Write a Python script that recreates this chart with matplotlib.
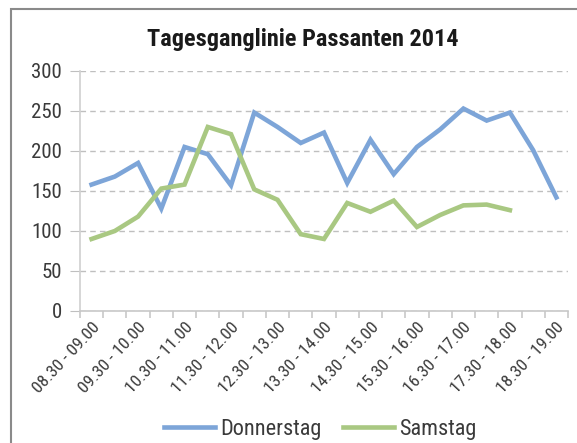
import numpy as np
import matplotlib
matplotlib.use("Agg")
import matplotlib.pyplot as plt
from matplotlib.patches import Rectangle

plt.rcParams['font.family'] = ['Noto Sans Condensed', 'DejaVu Sans Condensed',
                               'Liberation Sans Narrow', 'Roboto Condensed',
                               'Noto Sans', 'DejaVu Sans']
plt.rcParams['font.stretch'] = 'condensed'

# half-hour slots, only every second one gets a label (like in Excel)
slots = ['08.30 - 09.00', '09.00 - 09.30', '09.30 - 10.00', '10.00 - 10.30',
         '10.30 - 11.00', '11.00 - 11.30', '11.30 - 12.00', '12.00 - 12.30',
         '12.30 - 13.00', '13.00 - 13.30', '13.30 - 14.00', '14.00 - 14.30',
         '14.30 - 15.00', '15.00 - 15.30', '15.30 - 16.00', '16.00 - 16.30',
         '16.30 - 17.00', '17.00 - 17.30', '17.30 - 18.00', '18.00 - 18.30',
         '18.30 - 19.00']
donnerstag = [158, 168, 185, 128, 205, 196, 157, 248, 230, 210, 223,
              160, 214, 171, 205, 227, 253, 238, 248, 201, 142]
samstag = [90, 100, 118, 153, 158, 230, 221, 152, 139, 96, 90,
           135, 124, 138, 105, 120, 132, 133, 126, np.nan, np.nan]

grey_txt = '#3a3a3a'
grey_ln = '#bfbfbf'

fig = plt.figure(figsize=(5.77, 4.43), dpi=100)
ax = fig.add_axes([0.1386, 0.298, 0.8458, 0.5418])

x = np.arange(len(slots))
ax.plot(x, donnerstag, color='#7da5d8', lw=3.3, label='Donnerstag', solid_joinstyle='miter')
ax.plot(x, samstag, color='#a9c882', lw=3.3, label='Samstag', solid_joinstyle='miter')

ax.set_xlim(-0.5, len(slots) - 0.5)
ax.set_ylim(0, 300)
ax.set_yticks(range(0, 301, 50))
ax.yaxis.grid(True, color=grey_ln, ls=(0, (4, 3)), lw=1)
ax.set_axisbelow(True)

for s in ['top', 'right']:
    ax.spines[s].set_visible(False)
ax.spines['left'].set_color('#d0d0d0')
ax.spines['bottom'].set_color('#c8c8c8')
ax.spines['left'].set_linewidth(1.2)
ax.spines['bottom'].set_linewidth(1.2)

ax.set_xticks(x[::2])
ax.set_xticklabels(slots[::2], rotation=47, ha='right', rotation_mode='anchor')
ax.set_xticks(np.arange(-0.5, len(slots)), minor=True)
ax.tick_params(axis='x', which='major', length=0, pad=6, labelsize=12.5, labelcolor=grey_txt)
ax.tick_params(axis='x', which='minor', length=5, color='#c8c8c8', width=1.2)
ax.tick_params(axis='y', length=7, color=grey_ln, labelsize=15, labelcolor=grey_txt, pad=6)

fig.text(0.525, 0.91, 'Tagesganglinie Passanten 2014', ha='center', va='center',
         fontsize=17.5, fontweight='bold', color='#1a1a1a')

fig.legend(loc='center', bbox_to_anchor=(0.555, 0.03), ncol=2, frameon=False,
           fontsize=16, handlelength=2.3, columnspacing=1.0, handletextpad=0.2,
           labelcolor=grey_txt, borderpad=0.2)

# outer chart frame, cut off at right and bottom like the screenshot
fig.patches.append(Rectangle((11 / 577, -0.2), 1.2, 1.2 - 9 / 443,
                             transform=fig.transFigure, fill=False,
                             ec='#8a8a8a', lw=1.5))

fig.savefig('out.png', dpi=100)
